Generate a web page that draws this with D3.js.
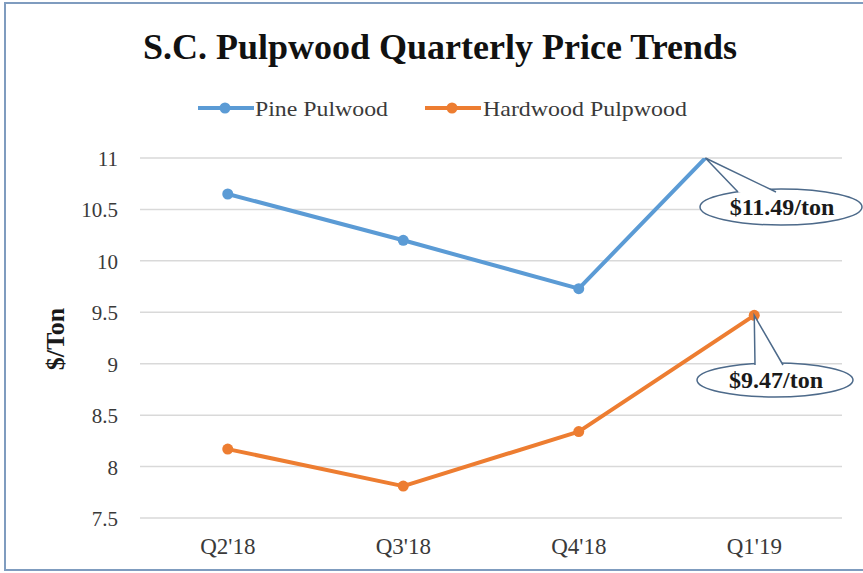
<!DOCTYPE html>
<html><head><meta charset="utf-8">
<script src="https://cdn.jsdelivr.net/npm/d3@7"></script>
<style>body{margin:0;background:#fff}</style>
</head><body>
<script>
const categories = ["Q2'18", "Q3'18", "Q4'18", "Q1'19"];
const pineValues = [10.65, 10.2, 9.73, 11.49];
const hardwoodValues = [8.17, 7.81, 8.34, 9.47];
const yTicks = [7.5, 8, 8.5, 9, 9.5, 10, 10.5, 11];
const seriesNames = ["Pine Pulwood", "Hardwood Pulpwood"];
const calloutLabels = ["$11.49/ton", "$9.47/ton"];

const W = 863, H = 573;
const font = "Liberation Serif, Times New Roman, serif";
const svg = d3.select("body").append("svg").attr("width", W).attr("height", H);

svg.append("rect").attr("x",5).attr("y",3).attr("width",W).attr("height",H-6)
  .attr("fill","#fff").attr("stroke","#7f9cbf").attr("stroke-width",2);

const x = d3.scaleBand().domain(categories).range([140, 842]);
const y = d3.scaleLinear().domain([7.5, 11]).range([518, 158]);

// gridlines
svg.append("g").selectAll("line").data(yTicks).join("line")
  .attr("x1",140).attr("x2",842).attr("y1",d=>y(d)).attr("y2",d=>y(d))
  .attr("stroke","#d9d9d9").attr("stroke-width",1.5);

// y axis
const yAxis = svg.append("g").attr("transform","translate(128,0)")
  .call(d3.axisLeft(y).tickValues(yTicks).tickSize(0).tickPadding(10).tickFormat(d=>String(d)));
yAxis.select(".domain").remove();
yAxis.attr("font-family",font).attr("font-size",21);
yAxis.selectAll("text").attr("fill","#3a3a3a").attr("dy","0.36em");

// x axis
const xAxis = svg.append("g").attr("transform","translate(0,537)")
  .call(d3.axisBottom(x).tickSize(0).tickPadding(0));
xAxis.select(".domain").remove();
xAxis.attr("font-family",font).attr("font-size",23);
xAxis.selectAll("text").attr("fill","#3a3a3a").attr("dy","0.76em");

svg.append("text").attr("transform","translate(64,339) rotate(-90)")
  .attr("text-anchor","middle").attr("font-family",font).attr("font-weight","bold")
  .attr("font-size",26).attr("fill","#1a1a1a").text("$/Ton");

// title
svg.append("text").attr("x",440).attr("y",59).attr("text-anchor","middle")
  .attr("font-family",font).attr("font-weight","bold").attr("font-size",36)
  .attr("fill","#111").text("S.C. Pulpwood Quarterly Price Trends");

const colors = ["#5b9bd5", "#ed7d31"];
const data = [pineValues, hardwoodValues];

svg.append("clipPath").attr("id","plotclip").append("rect")
  .attr("x",130).attr("y",y(11)).attr("width",730).attr("height",y(7.5)-y(11)+20);

const line = d3.line().x((d,i)=>x(categories[i])+x.bandwidth()/2).y(d=>y(d));
const plot = svg.append("g").attr("clip-path","url(#plotclip)");
data.forEach((vals,k)=>{
  plot.append("path").datum(vals).attr("d",line).attr("fill","none")
    .attr("stroke",colors[k]).attr("stroke-width",4).attr("stroke-linejoin","round");
  plot.selectAll(null).data(vals).join("circle")
    .attr("cx",(d,i)=>x(categories[i])+x.bandwidth()/2).attr("cy",d=>y(d))
    .attr("r",5.5).attr("fill",colors[k]);
});

// legend
const legend = [{x:198, tx:255, tw:133}, {x:425, tx:483, tw:204}];
legend.forEach((l,k)=>{
  svg.append("line").attr("x1",l.x).attr("x2",l.x+56).attr("y1",108).attr("y2",108)
    .attr("stroke",colors[k]).attr("stroke-width",4);
  svg.append("circle").attr("cx",l.x+27).attr("cy",108).attr("r",5.5).attr("fill",colors[k]);
  svg.append("text").attr("x",l.tx).attr("y",116).attr("font-family",font)
    .attr("font-size",22).attr("textLength",l.tw).attr("lengthAdjust","spacingAndGlyphs")
    .attr("fill","#3a3a3a").text(seriesNames[k]);
});

// callouts
function callout(tip, base1, base2, cx, cy, rx, ry, label){
  const g = svg.append("g");
  g.append("ellipse").attr("cx",cx).attr("cy",cy).attr("rx",rx).attr("ry",ry)
    .attr("fill","#fff").attr("stroke","#4d6a8a").attr("stroke-width",1.5);
  g.append("path").attr("d",`M${base1[0]},${base1[1]+3} L${tip[0]},${tip[1]} L${base2[0]},${base2[1]+3}`)
    .attr("fill","#fff").attr("stroke","#4d6a8a").attr("stroke-width",1.5);
  g.append("text").attr("x",cx+1).attr("y",cy+8).attr("text-anchor","middle")
    .attr("font-family",font).attr("font-weight","bold").attr("font-size",24)
    .attr("fill","#1a1a1a").text(label);
}
const x3 = x(categories[2])+x.bandwidth()/2, x4 = x(categories[3])+x.bandwidth()/2;
const tPine = (11 - pineValues[2])/(pineValues[3]-pineValues[2]);
const pineTip = [x3 + tPine*(x4-x3), y(11)];
callout(pineTip, [738,189], [776,189], 781, 207, 81, 18, calloutLabels[0]);
const hwTip = [x4, y(hardwoodValues[3])];
callout(hwTip, [755,362], [783,362], 775, 380, 78, 17, calloutLabels[1]);
</script>
</body></html>
